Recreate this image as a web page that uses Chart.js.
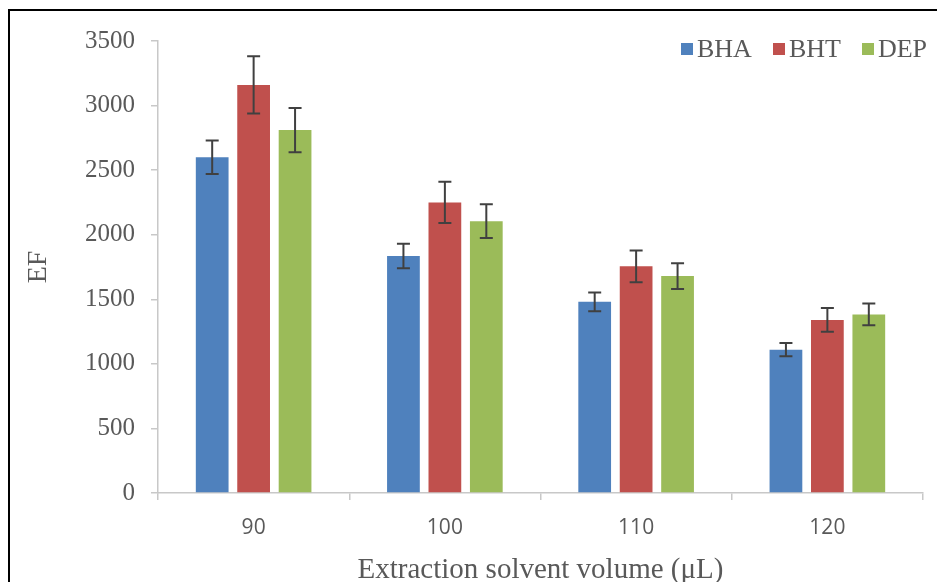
<!DOCTYPE html>
<html>
<head>
<meta charset="utf-8">
<script src="https://cdn.jsdelivr.net/npm/chart.js@4.4.1/dist/chart.umd.min.js"></script>
<style>
  html, body { margin: 0; padding: 0; background: #fff; }
  #wrap { position: relative; width: 937px; height: 582px; overflow: hidden; }
  #frame { position: absolute; left: 8px; top: 9px; width: 1000px; height: 1000px;
           border-top: 2px solid #000; border-left: 2px solid #000; pointer-events: none; }
  #legend { position: absolute; top: 34px; left: 681px; font-family: "Liberation Serif", serif;
            font-size: 26px; color: #595959; display: flex; white-space: nowrap; }
  #legend span.item { display: flex; align-items: center; margin-right: 21px; }
  #legend i { display: inline-block; width: 12px; height: 12px; margin-right: 4px; }
</style>
</head>
<body>
<div id="wrap">
  <canvas id="chart" width="937" height="582"></canvas>
  <div id="frame"></div>
  <div id="legend"></div>
</div>
<script>
// Data
const categories = ['90', '100', '110', '120'];
const seriesNames = ['BHA', 'BHT', 'DEP'];
const bhaValues = [2600, 1835, 1480, 1110];
const bhtValues = [3160, 2250, 1755, 1340];
const depValues = [2810, 2105, 1680, 1383];
const bhaErrors = [130, 95, 72, 52];
const bhtErrors = [222, 160, 123, 92];
const depErrors = [172, 130, 100, 85];
const yTicks = [0, 500, 1000, 1500, 2000, 2500, 3000, 3500];

const colors = ['#4f81bd', '#c0504d', '#9bbb59'];
const allValues = [bhaValues, bhtValues, depValues];
const allErrors = [bhaErrors, bhtErrors, depErrors];

// Error bars drawn from the scales
const errorBars = {
    id: 'errorBars',
    afterDatasetsDraw(chart) {
        const ctx = chart.ctx;
        const yScale = chart.scales.y;
        ctx.save();
        ctx.strokeStyle = '#404040';
        ctx.lineWidth = 2;
        chart.data.datasets.forEach((ds, di) => {
            const meta = chart.getDatasetMeta(di);
            meta.data.forEach((bar, i) => {
                const v = ds.data[i];
                const e = ds.errors[i];
                const top = yScale.getPixelForValue(v + e);
                const bottom = yScale.getPixelForValue(v - e);
                const cap = 6.5;
                ctx.beginPath();
                ctx.moveTo(bar.x, top);
                ctx.lineTo(bar.x, bottom);
                ctx.moveTo(bar.x - cap, top);
                ctx.lineTo(bar.x + cap, top);
                ctx.moveTo(bar.x - cap, bottom);
                ctx.lineTo(bar.x + cap, bottom);
                ctx.stroke();
            });
        });
        ctx.restore();
    }
};

const datasets = seriesNames.map((name, i) => ({
    label: name,
    data: allValues[i],
    errors: allErrors[i],
    backgroundColor: colors[i],
    borderWidth: 0,
    categoryPercentage: 0.65,
    barPercentage: 0.79
}));

new Chart(document.getElementById('chart'), {
    type: 'bar',
    data: { labels: categories, datasets: datasets },
    options: {
        responsive: false,
        animation: false,
        layout: { padding: { left: 22, right: 14, top: 41, bottom: 0 } },
        plugins: {
            legend: { display: false },
            tooltip: { enabled: false }
        },
        scales: {
            x: {
                offset: true,
                grid: { offset: true, drawOnChartArea: false, drawTicks: true, tickLength: 7, color: '#c8c8c8', lineWidth: 1.5 },
                border: { color: '#c8c8c8', width: 1.5 },
                ticks: { color: '#595959', font: { family: 'Open Sans', size: 21 }, padding: 15 },
                title: { display: true, text: 'Extraction solvent volume (\u03bcL)', color: '#595959',
                         font: { family: 'Liberation Serif', size: 29 }, padding: { top: 6, bottom: -6 } },
                afterFit(scale) { scale.height = 89; }
            },
            y: {
                min: 0,
                max: 3500,
                afterBuildTicks(scale) { scale.ticks = yTicks.map(v => ({ value: v })); },
                grid: { drawOnChartArea: false, drawTicks: true, tickLength: 7, color: '#c8c8c8', lineWidth: 1.5 },
                border: { color: '#c8c8c8', width: 1.5 },
                ticks: { color: '#595959', font: { family: 'Liberation Serif', size: 25 }, padding: 16,
                         callback: v => String(v) },
                title: { display: true, text: 'EF', color: '#595959',
                         font: { family: 'Liberation Serif', size: 28 }, padding: 0 },
                afterFit(scale) { scale.width = 136; }
            }
        }
    },
    plugins: [errorBars]
});

// HTML legend
const legend = document.getElementById('legend');
seriesNames.forEach((name, i) => {
    const item = document.createElement('span');
    item.className = 'item';
    item.innerHTML = '<i style="background:' + colors[i] + '"></i>' + name;
    legend.appendChild(item);
});
</script>
</body>
</html>
